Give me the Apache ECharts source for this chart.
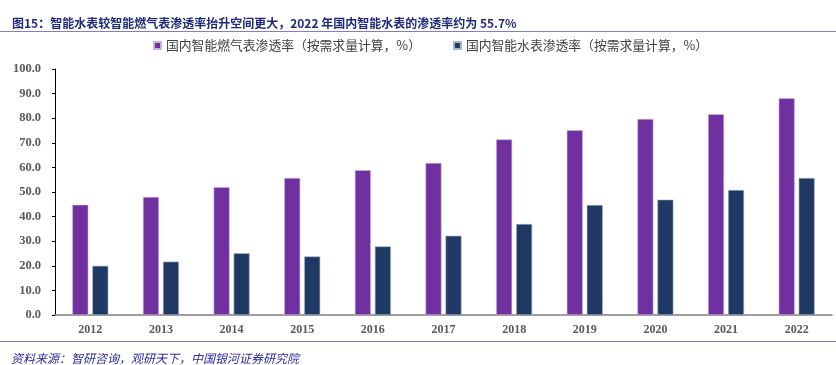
<!DOCTYPE html>
<html><head><meta charset="utf-8">
<script src="https://cdn.jsdelivr.net/npm/echarts@6/dist/echarts.min.js"></script>
<style>html,body{margin:0;padding:0;background:#fff}#c{width:836px;height:365px}</style>
</head><body><div id="c"></div>
<script>
const categories = ['2012','2013','2014','2015','2016','2017','2018','2019','2020','2021','2022'];
const gasRate = [44.8, 48.0, 52.0, 55.7, 58.9, 61.8, 71.4, 75.1, 79.7, 81.6, 88.1];
const waterRate = [20.0, 21.7, 25.1, 23.8, 27.9, 32.2, 37.0, 44.7, 46.9, 50.8, 55.7];
const seriesNames = ['国内智能燃气表渗透率（按需求量计算，%）', '国内智能水表渗透率（按需求量计算，%）'];
const titleText = '图15：智能水表较智能燃气表渗透率抬升空间更大，2022 年国内智能水表的渗透率约为 55.7%';
const sourceText = '资料来源：智研咨询，观研天下，中国银河证券研究院';

const chart = echarts.init(document.getElementById('c'));
const numFont = '"Liberation Serif", "Times New Roman", serif';
chart.setOption({
  animation: false,
  title: [
    { text: titleText, left: 7, top: 12,
      textStyle: { fontSize: 12, fontWeight: 'bold', color: '#1F2A7A', fontFamily: '"Noto Sans CJK SC", sans-serif' } },
    { text: sourceText, left: 6, top: 347,
      textStyle: { fontSize: 12, fontWeight: 'normal', fontStyle: 'italic', color: '#2B2BA0', fontFamily: '"Noto Sans CJK SC", serif' } }
  ],
  graphic: [
    { type: 'line', shape: { x1: 0, y1: 31.5, x2: 836, y2: 31.5 }, style: { stroke: '#8080C0', lineWidth: 1 } },
    { type: 'line', shape: { x1: 0, y1: 341.5, x2: 836, y2: 341.5 }, style: { stroke: '#8080C0', lineWidth: 1 } }
  ],
  legend: {
    top: 34, left: 148, itemGap: 32, itemWidth: 7, itemHeight: 7, icon: 'rect',
    textStyle: { fontSize: 12.8, color: '#404040', fontFamily: '"Noto Sans CJK SC", sans-serif' }
  },
  grid: { left: 55, right: 4, top: 69, bottom: 50, containLabel: false },
  xAxis: {
    type: 'category', data: categories,
    axisLine: { lineStyle: { color: '#7F7F7F', width: 1.5 } },
    axisTick: { show: false },
    axisLabel: { margin: 9, fontSize: 12, fontWeight: 'bold', color: '#595959', fontFamily: numFont }
  },
  yAxis: {
    type: 'value', min: 0, max: 100, interval: 10,
    axisLine: { show: true, lineStyle: { color: '#000', width: 1 } },
    axisTick: { show: true, length: 3, lineStyle: { color: '#000' } },
    splitLine: { show: false },
    axisLabel: { margin: 14, fontSize: 12.5, fontWeight: 'bold', color: '#595959', fontFamily: numFont,
      formatter: v => v.toFixed(1) }
  },
  series: [
    { name: seriesNames[0], type: 'bar', data: gasRate, barWidth: 16, barGap: '25%',
      itemStyle: { color: '#7030A0', borderColor: '#C9B3DD', borderWidth: 0.6 } },
    { name: seriesNames[1], type: 'bar', data: waterRate, barWidth: 16,
      itemStyle: { color: '#1F3864', borderColor: '#A9B4C8', borderWidth: 0.6 } }
  ]
});
</script></body></html>
